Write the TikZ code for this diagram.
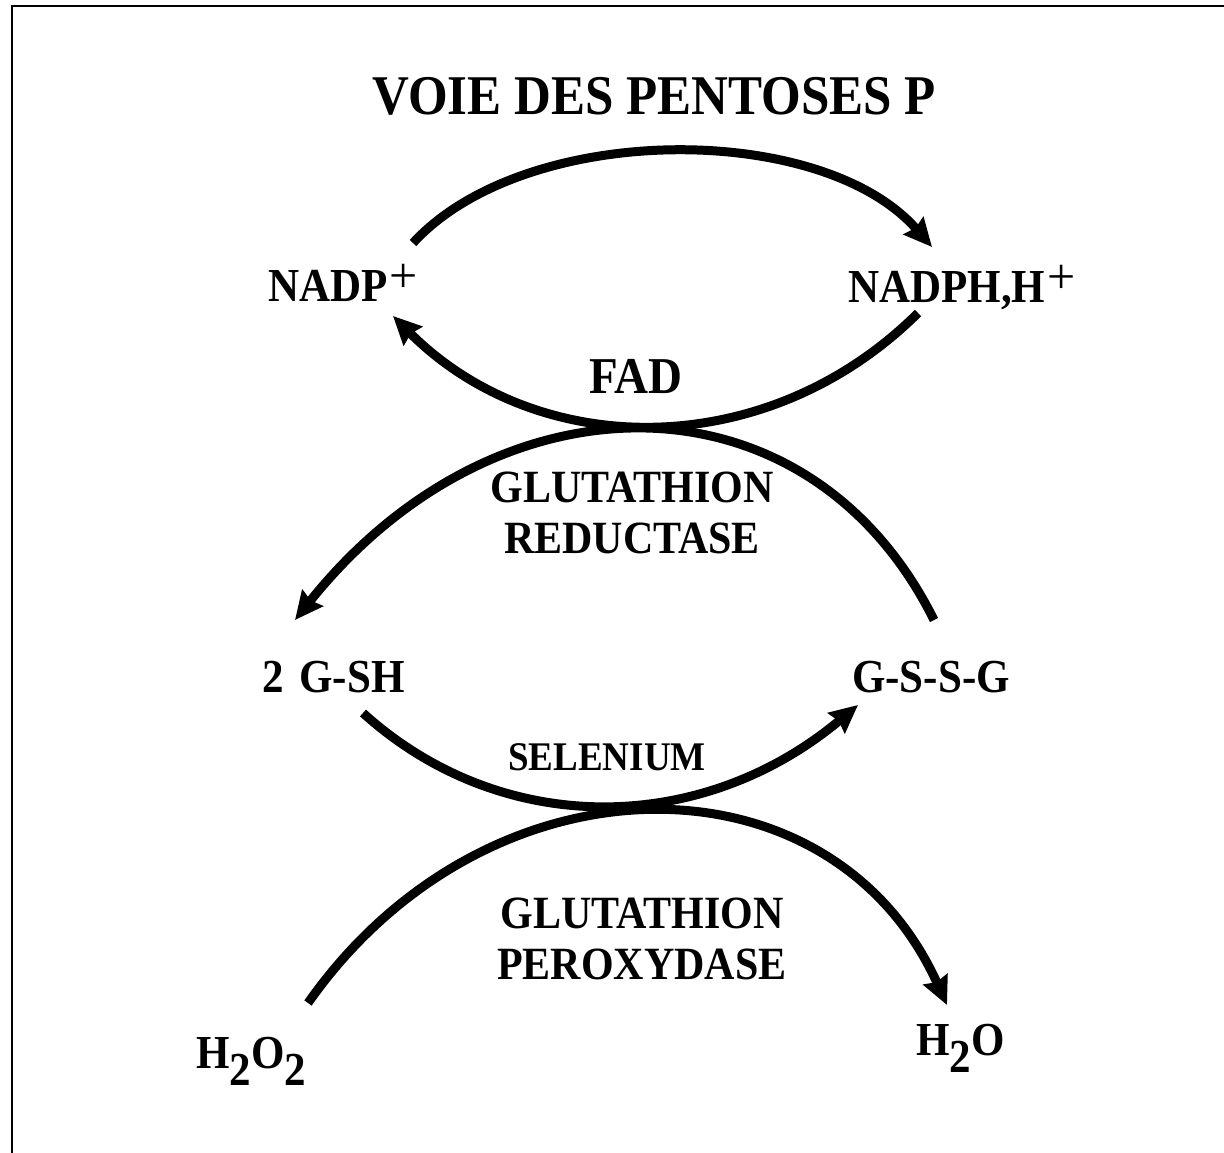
\documentclass[tikz,border=0pt]{standalone}
\usepackage{fontspec}
\setmainfont{Liberation Serif}
\usetikzlibrary{arrows.meta}
\newcommand{\vs}[1]{\scalebox{1}[1.1]{#1}}
\tikzset{
  lbl/.style={inner sep=0pt, anchor=base west, font=\bfseries\fontsize{43}{50}\selectfont},
  enz/.style={inner sep=0pt, anchor=base, align=center, font=\bfseries\fontsize{42}{51}\selectfont},
  arc/.style={line width=9pt, -{Stealth[length=28pt,width=26pt,inset=3pt]}},
  frame/.style={line width=2.5pt}
}
\newcommand{\myplus}{\hspace{2pt}\raisebox{9pt}{\mdseries\fontsize{50}{50}\selectfont +}}
\newcommand{\mytwo}{\raisebox{-16pt}{2}}
\begin{document}
\begin{tikzpicture}[x=1pt,y=-1pt]
\useasboundingbox (0,0) rectangle (1224,1153);
\draw[frame] (12,1160) -- (12,6) -- (1230,6);
% texts
\node[inner sep=0pt, anchor=base, font=\bfseries\fontsize{51}{60}\selectfont] (title) at (654,115) {\vs{VOIE DES PENTOSES P}};
\node[lbl] (nadp) at (268,301) {\vs{NADP}\myplus};
\node[lbl] (nadph) at (848,302) {\vs{NADPH,H}\myplus};
\node[lbl, anchor=base, font=\bfseries\fontsize{47}{50}\selectfont] (fad) at (636,393) {\vs{FAD}};
\node[enz] (gr) at (632,553) {\vs{GLUTATHION}\\\vs{REDUCTASE}};
\node[lbl] (gsh) at (262,692) {\vs{2\hspace{5pt} G-SH}};
\node[lbl] (gssg) at (852,692) {\vs{G-S-S-G}};
\node[enz, font=\bfseries\fontsize{37}{40}\selectfont] (sel) at (607,770) {\vs{SELENIUM}};
\node[enz] (gp) at (642,979) {\vs{GLUTATHION}\\\vs{PEROXYDASE}};
\node[lbl] (hoo) at (196,1068) {\vs{H\mytwo O\mytwo}};
\node[lbl] (ho) at (916,1055) {\vs{H\mytwo O}};
% arc endpoints
\coordinate (a1s) at (413,243);
\coordinate (a1e) at (932,247);
\coordinate (a2s) at (918,313);
\coordinate (a2e) at (393,316);
\coordinate (a3s) at (934,620);
\coordinate (a3e) at (295,620);
\coordinate (a4s) at (363,713);
\coordinate (a4e) at (858,705);
\coordinate (a5s) at (308,1003);
\coordinate (a5e) at (947,1005);
% arcs
\draw[arc] (a1s) .. controls (525,121) and (822,121) .. (a1e);
\draw[arc] (a2s) .. controls (768,462) and (539,462) .. (a2e);
\draw[arc] (a3s) .. controls (808,367) and (497,367) .. (a3e);
\draw[arc] (a4s) .. controls (500,837) and (700,837) .. (a4e);
\draw[arc] (a5s) .. controls (487,748) and (831,748) .. (a5e);
\end{tikzpicture}
\end{document}
